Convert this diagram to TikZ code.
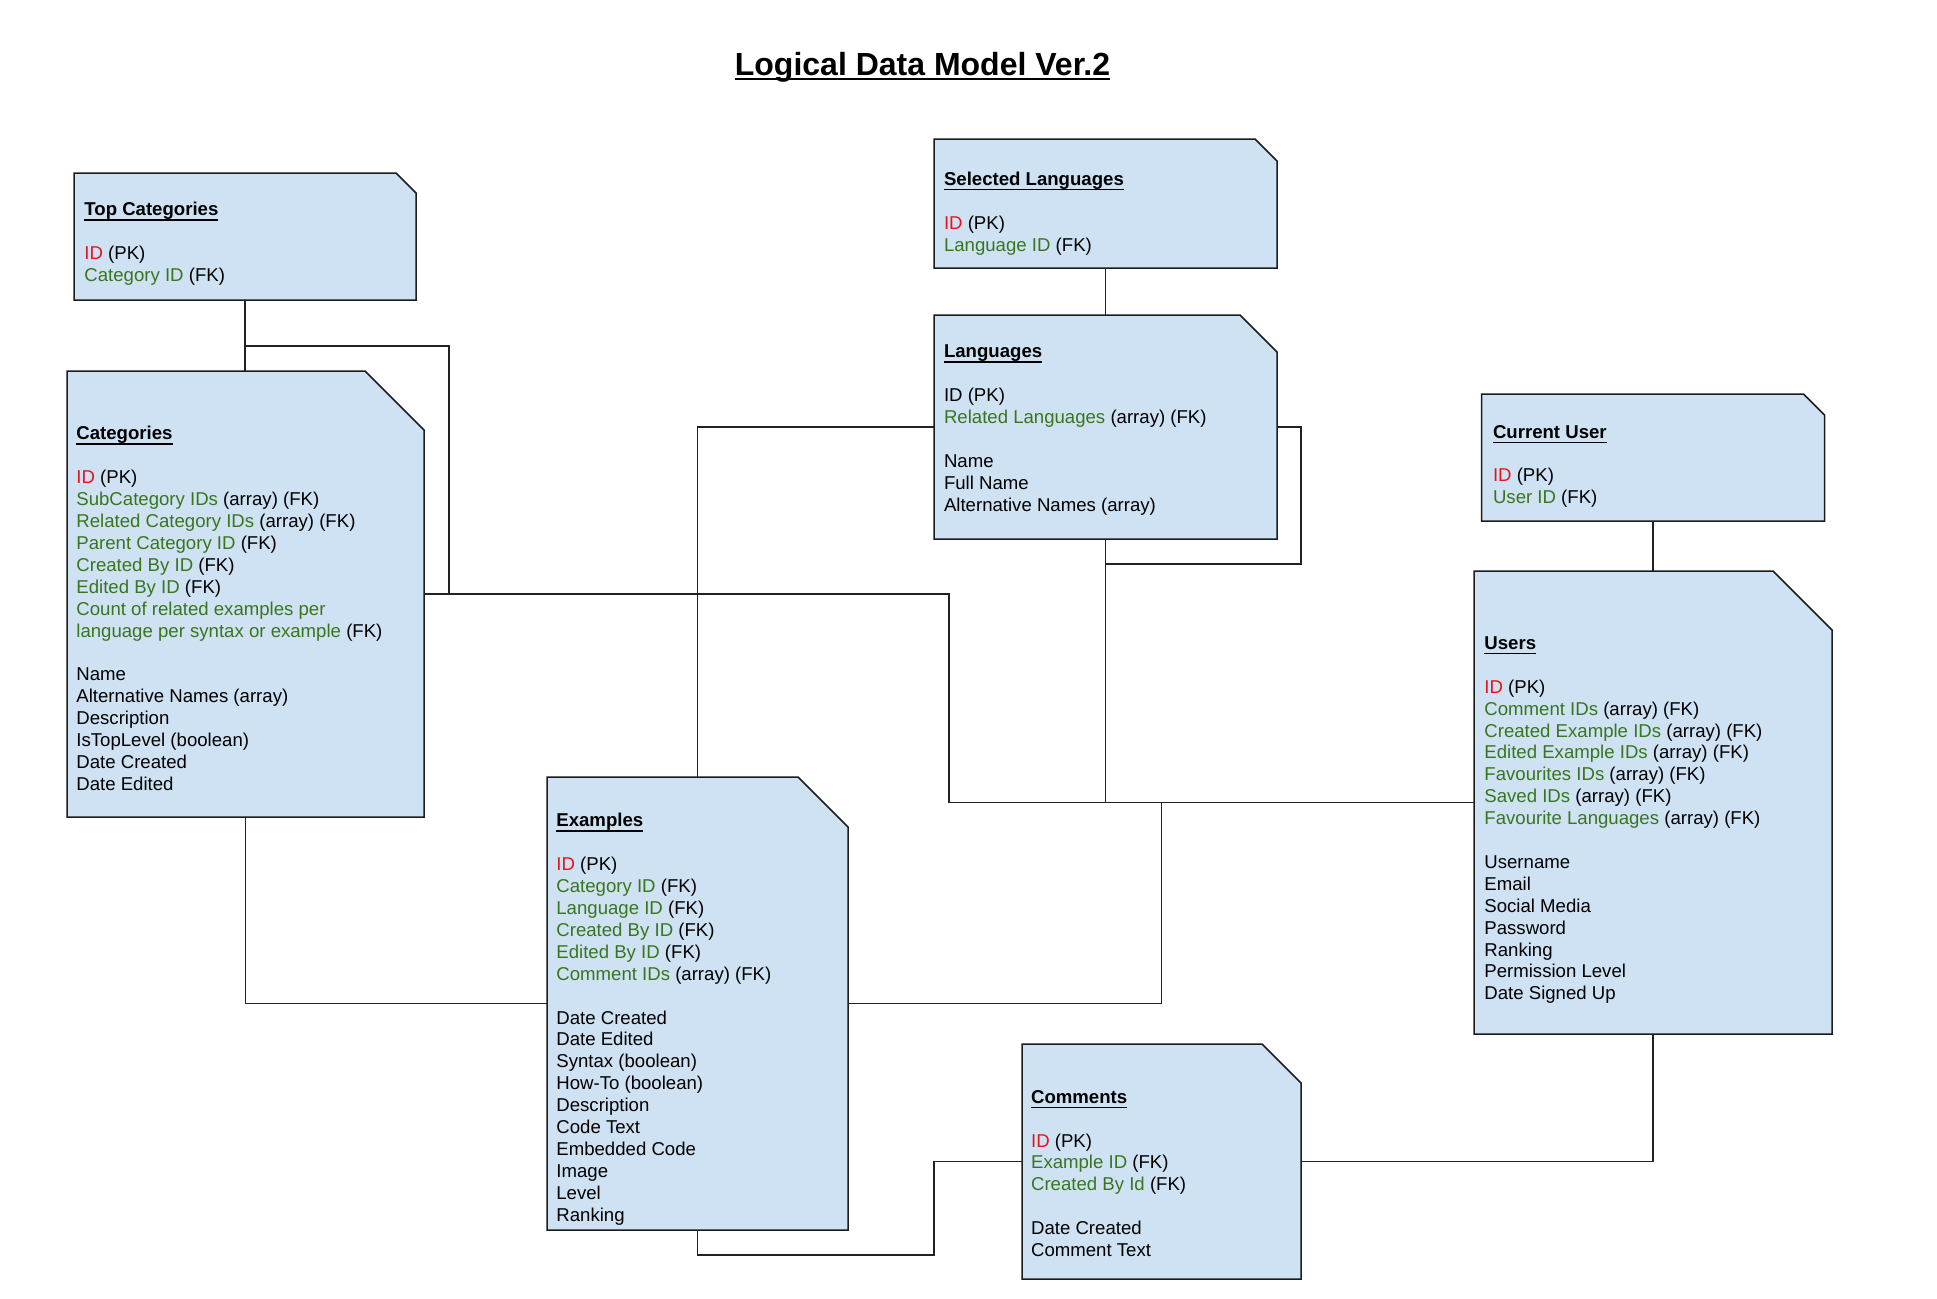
\documentclass[tikz,border=0pt]{standalone}
\usepackage{fontspec}
\setmainfont{Liberation Sans}

\definecolor{boxblue}{HTML}{CFE2F3}
\definecolor{boxline}{HTML}{1C1C1C}
\definecolor{linkgray}{HTML}{222222}
\definecolor{pkred}{HTML}{E8141B}
\definecolor{fkgreen}{HTML}{38761D}

\newcommand\ulined[3]{\setbox0\hbox{#1}\rlap{\rule[#2]{\wd0}{#3}}\box0}
\newcommand\ulhead[1]{\rule{0pt}{8pt}\ulined{\bfseries #1}{-2.3pt}{0.6pt}}
\newcommand\pkey[1]{\textcolor{pkred}{#1}}
\newcommand\fkey[1]{\textcolor{fkgreen}{#1}}
\newcommand\cutbox[2]{\draw[outline] (#1.south west) -- (#1.north west) -- ([shift={(-#2,0)}]#1.north east) -- ([shift={(0,#2)}]#1.north east) -- (#1.south east) -- cycle;}

\begin{document}
\begin{tikzpicture}[x=0.5pt,y=-0.5pt,
    entity/.style={draw=none,inner sep=0pt,outer sep=0pt},
    outline/.style={draw=boxline,fill=boxblue,line width=0.75pt},
    link/.style={draw=linkgray,line width=0.55pt},
    fields/.style={anchor=north west,align=left,inner sep=0pt,font=\fontsize{9.3}{10.95}\selectfont}]
    \useasboundingbox (0,0) rectangle (1937,1298);

    \node[anchor=base,font=\fontsize{16}{19}\selectfont\bfseries] (title) at (922.5,75) {\ulined{Logical Data Model Ver.2}{-2.7pt}{1.15pt}};

    % tables
    \node[entity,minimum width=171pt,minimum height=63.5pt] (topcat) at (245,236.5) {};
    \node[entity,minimum width=178.5pt,minimum height=223pt] (categories) at (245.5,594) {};
    \node[entity,minimum width=171.5pt,minimum height=64.5pt] (selected) at (1105.5,203.5) {};
    \node[entity,minimum width=171.5pt,minimum height=112pt] (languages) at (1105.5,427) {};
    \node[entity,minimum width=171.5pt,minimum height=63.5pt] (curuser) at (1653,457.5) {};
    \node[entity,minimum width=179pt,minimum height=231.5pt] (users) at (1653,802.5) {};
    \node[entity,minimum width=150.5pt,minimum height=226.5pt] (examples) at (697.5,1003.5) {};
    \node[entity,minimum width=139.5pt,minimum height=117.5pt] (comments) at (1161.5,1161.5) {};

    \cutbox{topcat}{20}
    \cutbox{categories}{59}
    \cutbox{selected}{22}
    \cutbox{languages}{37}
    \cutbox{curuser}{21}
    \cutbox{users}{59}
    \cutbox{examples}{50}
    \cutbox{comments}{39}

    % relations
    \coordinate (catloop) at (449,346);
    \coordinate (catbend) at (949,594);
    \coordinate (langloop) at (1301,564);
    \coordinate (exbend) at (934,1255);
    \draw[link] (topcat.south) -- (topcat.south |- categories.north);
    \draw[link] (topcat.south |- catloop) -| (catloop |- categories.east);
    \draw[link] (categories.east) -- (catbend) |- (users.west);
    \draw[link] (languages.south) -- (languages.south |- users.west);
    \draw[link] (languages.east) -| (langloop) -- (langloop -| languages.south);
    \draw[link] (languages.west) -| (examples.north);
    \draw[link] (selected.south) -- (languages.north);
    \draw[link] (curuser.south) -- (users.north);
    \draw[link] (categories.south) |- (examples.west);
    \draw[link] (examples.east) -| (comments.north |- users.west);
    \draw[link] (examples.south) |- (exbend) |- (comments.west);
    \draw[link] (comments.east) -| (users.south);

    % fields (anchored 16px above the header baseline)
    \node[fields] (topcat text) at (84,199.5) {\ulhead{Top Categories}\\[10.95pt]
        \pkey{ID} (PK)\\
        \fkey{Category ID} (FK)};
    \node[fields] (categories text) at (76,423.5) {\ulhead{Categories}\\[10.95pt]
        \pkey{ID} (PK)\\
        \fkey{SubCategory IDs} (array) (FK)\\
        \fkey{Related Category IDs} (array) (FK)\\
        \fkey{Parent Category ID} (FK)\\
        \fkey{Created By ID} (FK)\\
        \fkey{Edited By ID} (FK)\\
        \fkey{Count of related examples per}\\
        \fkey{language per syntax or example} (FK)\\[10.95pt]
        Name\\
        Alternative Names (array)\\
        Description\\
        IsTopLevel (boolean)\\
        Date Created\\
        Date Edited};
    \node[fields] (selected text) at (943.6,168.9) {\ulhead{Selected Languages}\\[10.95pt]
        \pkey{ID} (PK)\\
        \fkey{Language ID} (FK)};
    \node[fields] (languages text) at (943.6,341.5) {\ulhead{Languages}\\[10.95pt]
        ID (PK)\\
        \fkey{Related Languages} (array) (FK)\\[10.95pt]
        Name\\
        Full Name\\
        Alternative Names (array)};
    \node[fields] (curuser text) at (1492.6,421.7) {\ulhead{Current User}\\[10.95pt]
        \pkey{ID} (PK)\\
        \fkey{User ID} (FK)};
    \node[fields] (users text) at (1484,633) {\ulhead{Users}\\[10.95pt]
        \pkey{ID} (PK)\\
        \fkey{Comment IDs} (array) (FK)\\
        \fkey{Created Example IDs} (array) (FK)\\
        \fkey{Edited Example IDs} (array) (FK)\\
        \fkey{Favourites IDs} (array) (FK)\\
        \fkey{Saved IDs} (array) (FK)\\
        \fkey{Favourite Languages} (array) (FK)\\[10.95pt]
        Username\\
        Email\\
        Social Media\\
        Password\\
        Ranking\\
        Permission Level\\
        Date Signed Up};
    \node[fields] (examples text) at (556,810.5) {\ulhead{Examples}\\[10.95pt]
        \pkey{ID} (PK)\\
        \fkey{Category ID} (FK)\\
        \fkey{Language ID} (FK)\\
        \fkey{Created By ID} (FK)\\
        \fkey{Edited By ID} (FK)\\
        \fkey{Comment IDs} (array) (FK)\\[10.95pt]
        Date Created\\
        Date Edited\\
        Syntax (boolean)\\
        How-To (boolean)\\
        Description\\
        Code Text\\
        Embedded Code\\
        Image\\
        Level\\
        Ranking};
    \node[fields] (comments text) at (1030.7,1086.8) {\ulhead{Comments}\\[10.95pt]
        \pkey{ID} (PK)\\
        \fkey{Example ID} (FK)\\
        \fkey{Created By Id} (FK)\\[10.95pt]
        Date Created\\
        Comment Text};
\end{tikzpicture}
\end{document}
